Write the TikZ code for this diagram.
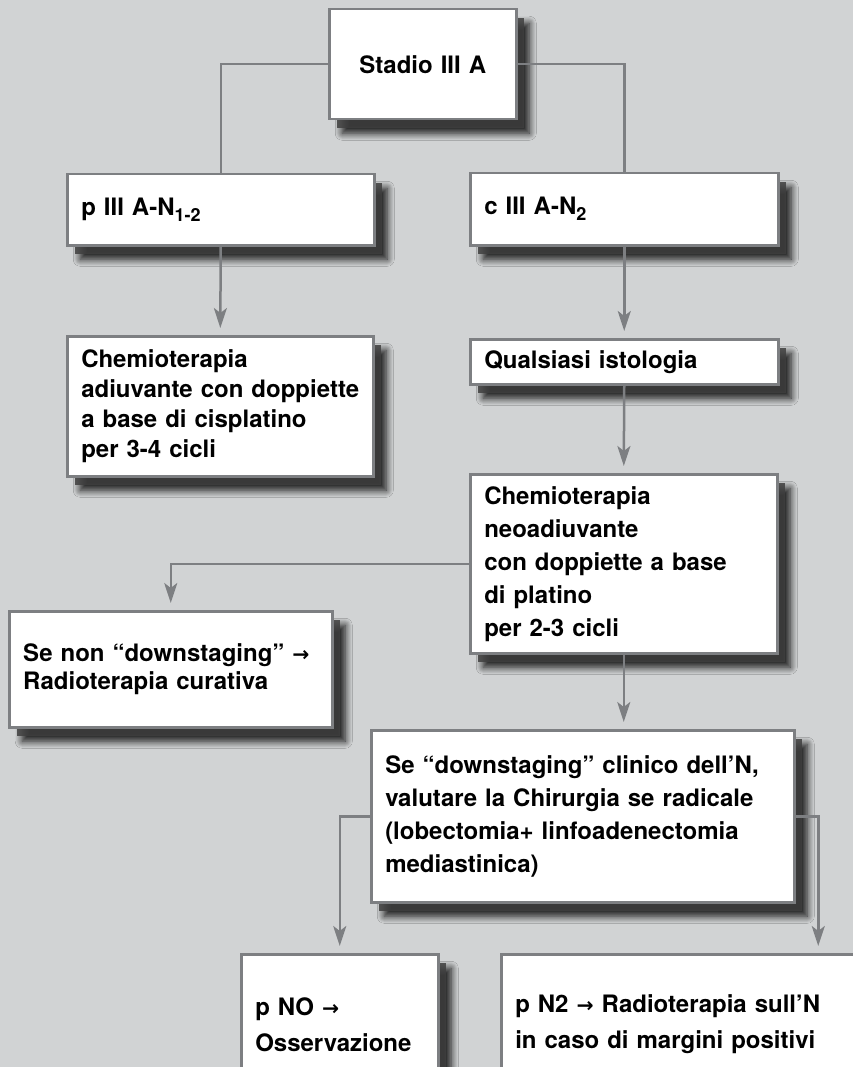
\documentclass[tikz,border=0pt]{standalone}
\usepackage{fontspec}
\setmainfont{TeX Gyre Heros}
\newfontfamily\arrowfont{DejaVu Sans}[Scale=0.85]
\usetikzlibrary{arrows.meta,shadows,shadows.blur}
\definecolor{bggray}{RGB}{209,211,212}
\definecolor{linegray}{RGB}{125,127,130}
\newcommand{\rarrow}{{\arrowfont\bfseries →}}
\newcommand{\lowidx}[1]{\raisebox{-6pt}{\fontsize{18}{18}\selectfont #1}}
\tikzset{
  tbox/.style={draw=linegray, line width=2.5pt, fill=white, align=left,
    inner xsep=14pt, inner ysep=0pt, anchor=north west,
    font=\fontsize{24}{#1}\selectfont\bfseries,
    blur shadow={shadow xshift=13pt, shadow yshift=-14pt, shadow blur radius=7pt,
      shadow opacity=90, shadow blur steps=10},
    drop shadow={shadow xshift=8pt, shadow yshift=-9pt, fill=black!75, opacity=0.85}},
  tbox/.default=30,
  conn/.style={draw=linegray, line width=2.5pt},
  arr/.style={conn, -{Stealth[length=20pt,width=13pt,inset=5pt]}, shorten >=7pt}
}
\begin{document}
\begin{tikzpicture}[x=1pt,y=-1pt]
\fill[bggray] (0,0) rectangle (853,1067);
\useasboundingbox (0,0) rectangle (853,1067);

\draw (328,8) node[tbox, align=center, text width=159pt, minimum height=110pt] (stadio) {Stadio III A};
\draw (66,173) node[tbox, text width=279pt, minimum height=71pt] (pthree) {p III A-N\lowidx{1-2}};
\draw (469,172) node[tbox, text width=280pt, minimum height=72pt] (cthree) {c III A-N\lowidx{2}};
\draw (stadio.west) -| (pthree.north) [conn];
\draw (stadio.east) -| (cthree.north) [conn];

\draw (66,335) node[tbox, text width=278pt, minimum height=140pt] (chemoadj) {Chemioterapia\\adiuvante con doppiette\\a base di cisplatino\\per 3-4 cicli};
\draw [arr] (pthree.south) -- (chemoadj.north);

\draw (469,338) node[tbox, text width=280pt, minimum height=45pt] (istologia) {Qualsiasi istologia};
\draw (469,473) node[tbox=33, text width=279pt, minimum height=179pt] (chemoneo) {Chemioterapia\\neoadiuvante\\con doppiette a base\\di platino\\per 2-3 cicli};
\draw [arr] (cthree.south) -- (istologia.north);
\draw [arr] (istologia.south) -- (chemoneo.north);

\draw (8,610) node[tbox=28, text width=295pt, minimum height=116pt] (nodown) {Se non “downstaging” \rarrow\\Radioterapia curativa};
\draw [arr] (chemoneo.west) -| (nodown.north);

\draw (370,729) node[tbox=33, text width=395pt, minimum height=172pt] (down) {Se “downstaging” clinico dell’N,\\valutare la Chirurgia se radicale\\(lobectomia+ linfoadenectomia\\mediastinica)};
\draw [arr] (chemoneo.south) -- (chemoneo.south |- down.north);

\draw (240,953) node[tbox=36, text width=169pt, minimum height=140pt] (pno) {p NO \rarrow\\Osservazione};
\draw (500,953) node[tbox=36, text width=606pt, minimum height=140pt] (pntwo) {p N2 \rarrow{} Radioterapia sull’N\\in caso di margini positivi};
\draw [arr] (down.west) -| (pno.north);
\draw [arr] (down.east) -| (pntwo.north);
\end{tikzpicture}
\end{document}
